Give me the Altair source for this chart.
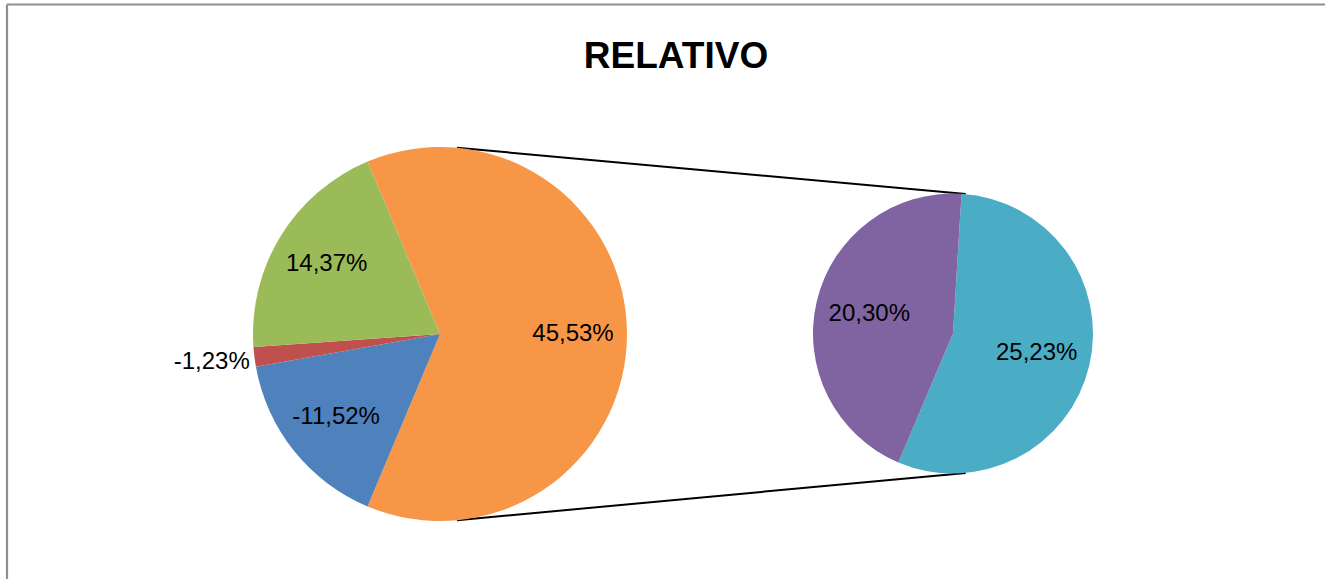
import math
import altair as alt
import pandas as pd

# ---- data ----
title_text = "RELATIVO"
main_categories = ["Serie 1", "Serie 2", "Serie 3"]      # blue, red, green (main pie)
main_values = [-11.52, -1.23, 14.37]
sub_categories = ["Serie 4", "Serie 5"]                   # teal, purple (second pie)
sub_values = [25.23, 20.30]
other_name = "Otros"

color_domain = [other_name] + main_categories + sub_categories
color_range = ["#F79646", "#4F81BD", "#C0504D", "#9BBB59", "#4BACC6", "#8064A2"]

# ---- layout ----
W, H = 1325, 579
L_CX, L_CY, L_R = 440, 334, 187
R_CX, R_CY, R_R = 953, 333.5, 140
CONNECT_ANGLE = math.radians(5.2)
R_START = math.radians(3.5)
FONT = "Liberation Sans"
LABEL_SIZE = 24


def fmt(v):
    return f"{v:.2f}%".replace(".", ",")


other_value = sum(sub_values)
left_cats = [other_name] + main_categories
left_vals = [other_value] + main_values
left_abs = [abs(v) for v in left_vals]
left_total = sum(left_abs)
left_df = pd.DataFrame({
    "cat": left_cats,
    "absval": left_abs,
    "ord": list(range(len(left_cats))),
    "lab_in": [fmt(v) if abs(v) >= 2 else "" for v in left_vals],
    "lab_out": [fmt(v) if abs(v) < 2 else "" for v in left_vals],
})
right_abs = [abs(v) for v in sub_values]
right_total = sum(right_abs)
right_df = pd.DataFrame({
    "cat": sub_categories,
    "absval": right_abs,
    "ord": list(range(len(sub_categories))),
    "lab": [fmt(v) for v in sub_values],
})

l_start = math.pi / 2 - math.pi * other_value / left_total
color = alt.Color("cat:N", scale=alt.Scale(domain=color_domain, range=color_range), legend=None)

theta_l = alt.Theta("absval:Q", stack=True,
                    scale=alt.Scale(domain=[0, left_total], range=[l_start, l_start + 2 * math.pi], nice=False, zero=True))
theta_r = alt.Theta("absval:Q", stack=True,
                    scale=alt.Scale(domain=[0, right_total], range=[R_START, R_START + 2 * math.pi], nice=False, zero=True))
order = alt.Order("ord:Q", sort="ascending")

left_base = alt.Chart(left_df)
arc_l = left_base.mark_arc(radius=L_R, x=L_CX, y=L_CY).encode(theta=theta_l, color=color, order=order)
txt_l = left_base.mark_text(radius=133, x=L_CX, y=L_CY, font=FONT, fontSize=LABEL_SIZE, color="#000000").encode(
    theta=theta_l, text="lab_in:N", order=order)
txt_l_out = left_base.mark_text(radius=230, x=L_CX, y=L_CY, font=FONT, fontSize=LABEL_SIZE, color="#000000").encode(
    theta=theta_l, text="lab_out:N", order=order)
left_layer = alt.layer(arc_l, txt_l, txt_l_out)

right_base = alt.Chart(right_df)
arc_r = right_base.mark_arc(radius=R_R, x=R_CX, y=R_CY).encode(theta=theta_r, color=color, order=order)
txt_r = right_base.mark_text(radius=86, x=R_CX, y=R_CY, font=FONT, fontSize=LABEL_SIZE, color="#000000").encode(
    theta=theta_r, text="lab:N", order=order)
right_layer = alt.layer(arc_r, txt_r)

# connector lines computed from the two pie geometries
s, c = math.sin(CONNECT_ANGLE), math.cos(CONNECT_ANGLE)
conn_df = pd.DataFrame({
    "x": [L_CX + L_R * s, L_CX + L_R * s],
    "y": [L_CY - L_R * c, L_CY + L_R * c],
    "x2": [R_CX + R_R * s, R_CX + R_R * s],
    "y2": [R_CY - R_R * c, R_CY + R_R * c],
})
connectors = alt.Chart(conn_df).mark_rule(color="#000000", strokeWidth=2).encode(
    x=alt.X("x:Q", scale=None), y=alt.Y("y:Q", scale=None),
    x2="x2:Q", y2="y2:Q")

# chart frame (top and left border)
frame_df = pd.DataFrame({"x": [7, 7], "y": [4.5, 4.5], "x2": [W + 5, 7], "y2": [4.5, H + 5]})
frame = alt.Chart(frame_df).mark_rule(color="#8f8f8f", strokeWidth=2.2).encode(
    x=alt.X("x:Q", scale=None), y=alt.Y("y:Q", scale=None), x2="x2:Q", y2="y2:Q")

title = alt.Chart(pd.DataFrame({"t": [title_text]})).mark_text(
    x=676, y=68, baseline="alphabetic", align="center", font=FONT, fontSize=37, fontWeight="bold", color="#000000"
).encode(text="t:N")

chart = alt.layer(frame, title, connectors, left_layer, right_layer).resolve_scale(
    theta="independent"
).properties(
    width=W, height=H, autosize=alt.AutoSizeParams(type="none"), padding=0, background="white"
).configure_view(stroke=None)

chart.save("out.html", embed_options={"renderer": "svg", "actions": False})
